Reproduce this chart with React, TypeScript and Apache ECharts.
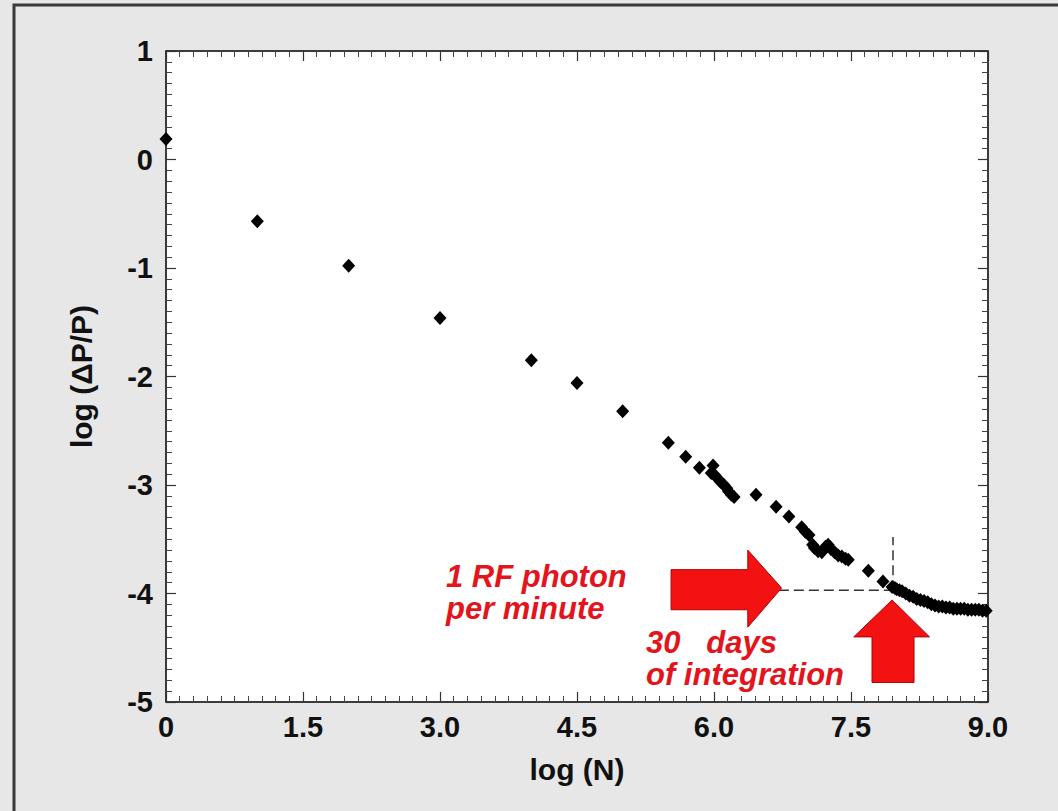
import React, { useEffect, useRef } from "react";
import * as echarts from "echarts";

// ---- data ----
const logN: number[] = [
  0, 1, 2, 3, 4, 4.5, 5, 5.5, 5.69, 5.84,
  5.99, 5.97, 6.01, 6.04, 6.07, 6.11, 6.14, 6.16, 6.19, 6.22,
  6.46, 6.68, 6.82, 6.96, 7.0, 7.04, 7.08, 7.1, 7.14, 7.18,
  7.22, 7.25, 7.28, 7.32, 7.36, 7.4, 7.44, 7.47, 7.69, 7.85,
  7.95, 7.98, 8.0, 8.03, 8.06, 8.1, 8.14, 8.18, 8.22, 8.26,
  8.3, 8.34, 8.38, 8.42, 8.46, 8.5, 8.54, 8.58, 8.62, 8.66,
  8.7, 8.74, 8.78, 8.82, 8.86, 8.9, 8.94, 8.98,
];
const logDP: number[] = [
  0.19, -0.57, -0.98, -1.46, -1.85, -2.06, -2.32, -2.61, -2.74, -2.84,
  -2.82, -2.89, -2.91, -2.94, -2.97, -3.0, -3.03, -3.06, -3.09, -3.11,
  -3.09, -3.2, -3.29, -3.39, -3.43, -3.46, -3.55, -3.58, -3.61, -3.62,
  -3.57, -3.55, -3.59, -3.62, -3.65, -3.66, -3.68, -3.69, -3.79, -3.89,
  -3.94, -3.95, -3.96, -3.97, -3.98, -4.0, -4.02, -4.03, -4.05, -4.06,
  -4.07, -4.08, -4.1, -4.11, -4.12, -4.12, -4.13, -4.13, -4.14, -4.14,
  -4.14, -4.14, -4.15, -4.15, -4.15, -4.15, -4.16, -4.16,
];

const xTickLabels: string[] = ["0", "1.5", "3.0", "4.5", "6.0", "7.5", "9.0"];
const yTickLabels: string[] = ["-5", "-4", "-3", "-2", "-1", "0", "1"];

// dashed guide lines (data units)
const guideHorizontal: number[][] = [[6.71, -3.97], [7.96, -3.97]];
const guideVertical: number[][] = [[7.96, -3.97], [7.96, -3.48]];

// annotation arrows (data units)
const arrowRight: number[][] = [
  [5.53, -3.78], [6.37, -3.78], [6.37, -3.6], [6.74, -3.95],
  [6.37, -4.31], [6.37, -4.15], [5.53, -4.15],
];
const arrowUp: number[][] = [
  [7.95, -4.06], [8.36, -4.4], [8.19, -4.4], [8.19, -4.82],
  [7.73, -4.82], [7.73, -4.4], [7.53, -4.4],
];
const arrows = [arrowRight, arrowUp];

const FONT = "'Liberation Sans', Arial, Helvetica, sans-serif";
const RED = "#e3141b";

export default function App() {
  const ref = useRef<HTMLDivElement>(null);

  useEffect(() => {
    if (!ref.current) return;
    const chart = echarts.init(ref.current, null, { renderer: "svg" });

    const axisCommon = {
      type: "value" as const,
      axisLine: { show: true, onZero: false, lineStyle: { color: "#222", width: 1.5 } },
      axisTick: { show: true, inside: true, length: 10, lineStyle: { color: "#333", width: 1.2 } },
      minorTick: { show: true, splitNumber: 10, length: 6, lineStyle: { color: "#444", width: 1 } },
      splitLine: { show: false },
      minorSplitLine: { show: false },
    };
    const labelStyle = {
      fontSize: 29,
      fontWeight: "bold" as const,
      color: "#111",
      fontFamily: FONT,
    };
    const redText = {
      fontSize: 31,
      lineHeight: 32,
      fontWeight: "bold" as const,
      fontStyle: "italic" as const,
      fontFamily: FONT,
      fill: RED,
      verticalAlign: "top" as const,
    };

    const option: any = {
      animation: false,
      backgroundColor: "#e7e7e7",
      grid: {
        left: 166,
        right: 70,
        top: 51,
        bottom: 109,
        show: true,
        backgroundColor: "#ffffff",
        borderColor: "#222",
        borderWidth: 1,
      },
      xAxis: [
        {
          ...axisCommon,
          position: "bottom",
          min: 0,
          max: 9,
          interval: 1.5,
          axisLabel: {
            ...labelStyle,
            margin: 10,
            formatter: (v: number) => xTickLabels[Math.round(v / 1.5)] ?? String(v),
          },
          name: "log (N)",
          nameLocation: "middle",
          nameGap: 52,
          nameTextStyle: { ...labelStyle, fontSize: 30 },
        },
        {
          ...axisCommon,
          position: "top",
          min: 0,
          max: 9,
          interval: 1.5,
          axisLabel: { show: false },
        },
      ],
      yAxis: [
        {
          ...axisCommon,
          position: "left",
          min: -5,
          max: 1,
          interval: 1,
          axisLabel: {
            ...labelStyle,
            margin: 13,
            formatter: (v: number) => yTickLabels[Math.round(v + 5)] ?? String(v),
          },
          name: "log (ΔP/P)",
          nameLocation: "middle",
          nameGap: 70,
          nameRotate: 90,
          nameTextStyle: { ...labelStyle, fontSize: 30 },
        },
        {
          ...axisCommon,
          position: "right",
          min: -5,
          max: 1,
          interval: 1,
          axisLabel: { show: false },
        },
      ],
      series: [
        {
          type: "line",
          data: guideHorizontal,
          symbol: "none",
          lineStyle: { color: "#333", width: 1.5, type: [10, 5] },
          z: 2,
        },
        {
          type: "line",
          data: guideVertical,
          symbol: "none",
          lineStyle: { color: "#333", width: 1.5, type: [10, 5] },
          z: 2,
        },
        {
          type: "custom",
          data: arrows.map((_, i) => [i, 0]),
          renderItem: (_params: any, api: any) => {
            const idx = api.value(0);
            const pts = arrows[idx].map((p) => api.coord(p));
            return {
              type: "polygon",
              shape: { points: pts },
              style: { fill: "#f21212", stroke: "#b40000", lineWidth: 1 },
            };
          },
          z: 3,
        },
        {
          type: "scatter",
          data: logN.map((x, i) => [x, logDP[i]]),
          symbol: "diamond",
          symbolSize: [13, 14],
          itemStyle: { color: "#000", opacity: 1 },
          z: 5,
        },
      ],
      graphic: [
        {
          type: "rect",
          shape: { x: 14, y: 5, width: 1200, height: 1000 },
          style: { fill: "none", stroke: "#3a3a3a", lineWidth: 3 },
          silent: true,
          z: 100,
        },
        {
          type: "text",
          x: 446,
          y: 560,
          style: { ...redText, text: "1 RF photon\nper minute" },
          z: 50,
        },
        {
          type: "text",
          x: 646,
          y: 626,
          style: { ...redText, text: "30   days\nof integration" },
          z: 50,
        },
      ],
    };

    chart.setOption(option);
    return () => chart.dispose();
  }, []);

  return (
    <div
      ref={ref}
      style={{ position: "absolute", left: 0, top: 0, width: 1058, height: 811 }}
    />
  );
}
